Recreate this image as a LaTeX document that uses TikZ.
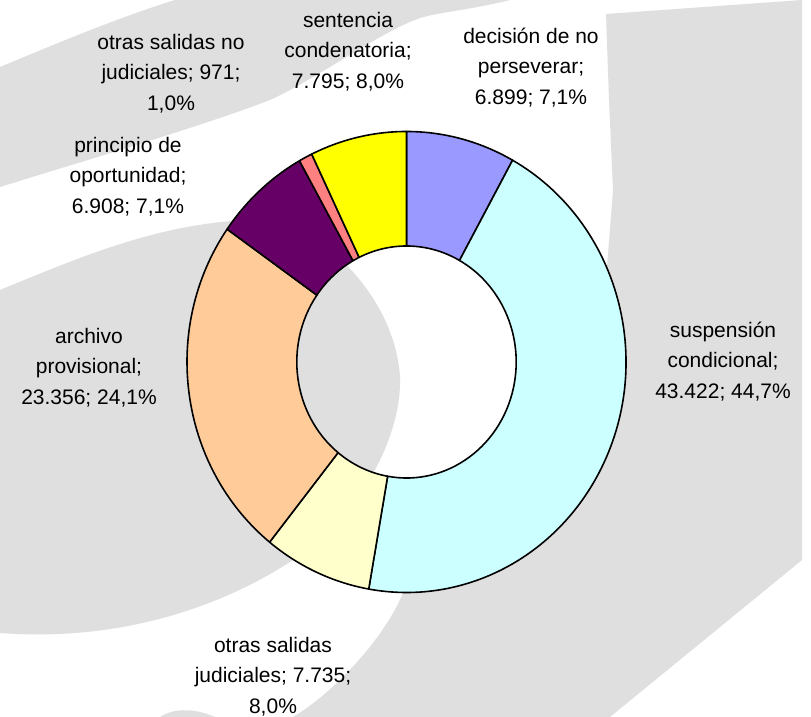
\documentclass[tikz,border=0pt]{standalone}
\usepackage{fontspec}
\setmainfont{Liberation Sans}
\definecolor{wm}{RGB}{223,223,223}
\definecolor{cBlue}{HTML}{9999FF}
\definecolor{cCyan}{HTML}{CCFFFF}
\definecolor{cLYel}{HTML}{FFFFCC}
\definecolor{cPeach}{HTML}{FFCC99}
\definecolor{cPurp}{HTML}{660066}
\definecolor{cPink}{HTML}{FF8080}
\definecolor{cYel}{HTML}{FFFF00}
\newcommand{\lblstrut}{\rule{0pt}{16pt}}
\newcommand{\slicepath}[2]{(#1:219.5pt and 230.5pt) arc[start angle=#1, end angle=#2, x radius=219.5pt, y radius=230.5pt] -- (#2:109.7pt and 116pt) arc[start angle=#2, end angle=#1, x radius=109.7pt, y radius=116pt] -- cycle}
\begin{document}
\begin{tikzpicture}[x=1pt,y=1pt,
  lbl/.style={align=center, inner sep=0pt, anchor=north, font=\fontsize{21}{30.5}\selectfont, text=black},
  slice/.style={draw=black, line width=1.6pt, line join=round}]
\useasboundingbox (0,0) rectangle (811,717);
\fill[white] (0,0) rectangle (811,717);
% watermark
\fill[wm] (0,650) .. controls (60,675) and (120,700) .. (175,717) -- (510,717) .. controls (470,707) and (440,705) .. (420,699) .. controls (380,685) and (320,640) .. (270,617) .. controls (200,590) and (80,555) .. (0,530) -- cycle;
\fill[wm] (0,427) .. controls (80,460) and (160,494) .. (250,497) .. controls (320,498) and (395,420) .. (400,340) .. controls (402,280) and (360,200) .. (290,155) .. controls (220,110) and (120,75) .. (0,84) -- cycle;
\fill[wm] (606,703) -- (802,717) -- (802,157) -- (610,0) -- (293,0) .. controls (335,25) and (385,80) .. (403,124) -- (480,211) -- (560,277) -- (600,387) -- (606,437) -- (613,527) -- (609,617) -- cycle;
\fill[wm] (160,0) .. controls (172,8) and (192,10) .. (215,0) -- cycle;
% donut
\begin{scope}[shift={(406.5,355)}]
\filldraw[slice, fill=cBlue] \slicepath{90}{61.10};
\filldraw[slice, fill=cCyan] \slicepath{61.10}{-99.91};
\filldraw[slice, fill=cLYel] \slicepath{-99.91}{-128.59};
\filldraw[slice, fill=cPeach] \slicepath{-128.59}{-215.19};
\filldraw[slice, fill=cPurp] \slicepath{-215.19}{-240.81};
\filldraw[slice, fill=cPink] \slicepath{-240.81}{-244.41};
\filldraw[slice, fill=cYel] \slicepath{-244.41}{-270};
\end{scope}
% labels
\node[lbl] (nojud) at (171,684) {\lblstrut otras salidas no\\judiciales; 971;\\1,0\%};
\node[lbl] (princ) at (128,581) {\lblstrut principio de\\oportunidad;\\6.908; 7,1\%};
\node[lbl] (sent) at (348,706) {\lblstrut sentencia\\condenatoria;\\7.795; 8,0\%};
\node[lbl] (decis) at (531,690) {\lblstrut decisión de no\\perseverar;\\6.899; 7,1\%};
\node[lbl] (susp) at (723,396) {\lblstrut suspensión\\condicional;\\43.422; 44,7\%};
\node[lbl] (arch) at (89,390) {\lblstrut archivo\\provisional;\\23.356; 24,1\%};
\node[lbl] (ojud) at (273,81) {\lblstrut otras salidas\\judiciales; 7.735;\\8,0\%};
\end{tikzpicture}
\end{document}
